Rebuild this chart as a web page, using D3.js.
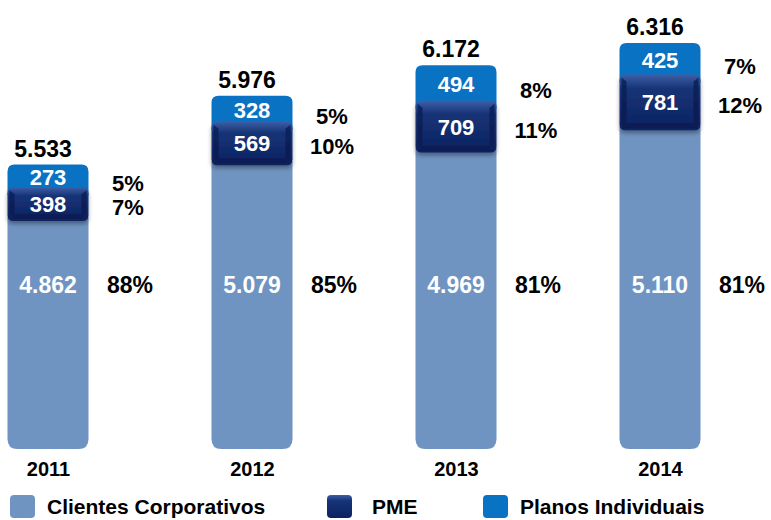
<!DOCTYPE html>
<html>
<head>
<meta charset="utf-8">
<script src="https://cdn.jsdelivr.net/npm/d3@7"></script>
<style>
  body { margin: 0; background: #fff; }
  text { font-family: Arial, "Liberation Sans", sans-serif; font-weight: bold; }
</style>
</head>
<body>
<svg id="chart" width="771" height="520"></svg>
<script>
// dados
const years = ['2011', '2012', '2013', '2014'];
const corporativos = [4862, 5079, 4969, 5110];
const pme = [398, 569, 709, 781];
const individuais = [273, 328, 494, 425];
const totals = ['5.533', '5.976', '6.172', '6.316'];
const totalValues = [5533, 5976, 6172, 6316];
const pctCorp = ['88%', '85%', '81%', '81%'];
const pctPme = ['7%', '10%', '11%', '12%'];
const pctInd = ['5%', '5%', '8%', '7%'];
const legendLabels = ['Clientes Corporativos', 'PME', 'Planos Individuais'];

const fmt = v => d3.format(',')(v).replace(/,/g, '.');

const colCorp = '#7094c1';
const colInd = '#0a72c3';
const colPme = '#0e2a6c';

const svg = d3.select('#chart');
const defs = svg.append('defs');

const gPme = defs.append('linearGradient').attr('id', 'pmeGrad').attr('x1', 0).attr('y1', 0).attr('x2', 0).attr('y2', 1);
gPme.append('stop').attr('offset', '0%').attr('stop-color', '#3d5fa6');
gPme.append('stop').attr('offset', '25%').attr('stop-color', '#173477');
gPme.append('stop').attr('offset', '100%').attr('stop-color', '#0b2260');

const shadow = defs.append('filter').attr('id', 'shadow').attr('x', '-20%').attr('y', '-20%').attr('width', '140%').attr('height', '160%');
shadow.append('feDropShadow').attr('dx', 0).attr('dy', 3).attr('stdDeviation', 2).attr('flood-color', '#000').attr('flood-opacity', 0.35);

const x = d3.scalePoint().domain(years).range([48, 660]);
const barW = 81;
const y = d3.scaleLinear().domain([3700, 6316]).range([449, 43]);   // topo da barra pelo total
const segH = d3.scaleLinear().domain([0, 800]).range([9, 55]);      // altura dos segmentos pequenos

// caminho com cantos arredondados escolhidos
function roundRect(x0, y0, w, h, rt, rb) {
  return `M${x0 + rt},${y0} H${x0 + w - rt} Q${x0 + w},${y0} ${x0 + w},${y0 + rt}
    V${y0 + h - rb} Q${x0 + w},${y0 + h} ${x0 + w - rb},${y0 + h}
    H${x0 + rb} Q${x0},${y0 + h} ${x0},${y0 + h - rb}
    V${y0 + rt} Q${x0},${y0} ${x0 + rt},${y0} Z`;
}

const rows = years.map((yr, i) => {
  const top = y(totalValues[i]);
  const hInd = segH(individuais[i]);
  const hPme = segH(pme[i]);
  return { yr, i, top, hInd, hPme, indBottom: top + hInd, pmeTop: top + hInd - 2, pmeBottom: top + hInd + hPme };
});

const bars = svg.append('g').selectAll('g').data(rows).enter().append('g');

// Clientes Corporativos
bars.append('path')
  .attr('d', d => roundRect(x(d.yr) - barW / 2, d.pmeBottom - 4, barW, y(3700) - d.pmeBottom + 4, 0, 10))
  .attr('fill', colCorp);

// Planos Individuais
bars.append('path')
  .attr('d', d => roundRect(x(d.yr) - barW / 2, d.top, barW, d.hInd + 6, 7, 0))
  .attr('fill', colInd);

// PME (efeito chanfrado)
const pmeG = bars.append('g').attr('filter', 'url(#shadow)');
pmeG.append('path')
  .attr('d', d => roundRect(x(d.yr) - barW / 2, d.pmeTop, barW, d.pmeBottom - d.pmeTop, 6, 6))
  .attr('fill', 'url(#pmeGrad)');
pmeG.append('path')
  .attr('d', d => {
    const x0 = x(d.yr) - barW / 2, x1 = x0 + barW, y0 = d.pmeTop, y1 = d.pmeBottom, b = 7;
    return `M${x0 + 2},${y0 + 3} L${x0 + b},${y0 + b} L${x0 + b},${y1 - b} L${x0 + 2},${y1 - 3} Z
      M${x1 - 2},${y0 + 3} L${x1 - b},${y0 + b} L${x1 - b},${y1 - b} L${x1 - 2},${y1 - 3} Z
      M${x0 + 3},${y1 - 2} L${x0 + b},${y1 - b} L${x1 - b},${y1 - b} L${x1 - 3},${y1 - 2} Z`;
  })
  .attr('fill', '#061a4f').attr('opacity', 0.7);

// rótulos internos
bars.append('text')
  .attr('x', d => x(d.yr)).attr('y', d => d.top + d.hInd / 2 + 8)
  .attr('text-anchor', 'middle').attr('fill', '#fff').attr('font-size', 22)
  .text(d => fmt(individuais[d.i]));
bars.append('text')
  .attr('x', d => x(d.yr)).attr('y', d => (d.pmeTop + d.pmeBottom) / 2 + 8)
  .attr('text-anchor', 'middle').attr('fill', '#fff').attr('font-size', 22)
  .text(d => fmt(pme[d.i]));
bars.append('text')
  .attr('x', d => x(d.yr)).attr('y', 293)
  .attr('text-anchor', 'middle').attr('fill', '#fff').attr('font-size', 23)
  .text(d => fmt(corporativos[d.i]));

// totais
bars.append('text')
  .attr('x', d => x(d.yr) - 5).attr('y', d => d.top - 8)
  .attr('text-anchor', 'middle').attr('fill', '#000').attr('font-size', 23)
  .text(d => totals[d.i]);

// percentuais
bars.append('text')
  .attr('x', d => x(d.yr) + 80).attr('y', d => d.top + d.hInd / 2 + 14)
  .attr('text-anchor', 'middle').attr('font-size', 22)
  .text(d => pctInd[d.i]);
bars.append('text')
  .attr('x', d => x(d.yr) + 80).attr('y', d => (d.pmeTop + d.pmeBottom) / 2 + 11)
  .attr('text-anchor', 'middle').attr('font-size', 22)
  .text(d => pctPme[d.i]);
bars.append('text')
  .attr('x', d => x(d.yr) + 82).attr('y', 293)
  .attr('text-anchor', 'middle').attr('font-size', 23)
  .text(d => pctCorp[d.i]);

// eixo x (anos)
const xAxis = svg.append('g').attr('transform', 'translate(0,457)')
  .call(d3.axisBottom(x).tickSize(0).tickPadding(0));
xAxis.select('.domain').remove();
xAxis.selectAll('text').attr('font-size', 20).attr('fill', '#000').attr('dy', '0.95em')
  .style('font-family', 'Arial, "Liberation Sans", sans-serif').style('font-weight', 'bold');

// legenda
const legendColors = [colCorp, colPme, colInd];
const legendX = [10, 327, 483];
const leg = svg.append('g').selectAll('g').data(legendLabels).enter().append('g')
  .attr('transform', (d, i) => `translate(${legendX[i]},495)`);
leg.append('rect').attr('width', 25).attr('height', 23).attr('rx', 4)
  .attr('fill', (d, i) => legendColors[i] === colPme ? 'url(#pmeGrad)' : legendColors[i]);
leg.append('text').attr('x', (d, i) => i === 1 ? 45 : 37).attr('y', 19).attr('font-size', 21).attr('fill', '#000')
  .text(d => d);
</script>
</body>
</html>
